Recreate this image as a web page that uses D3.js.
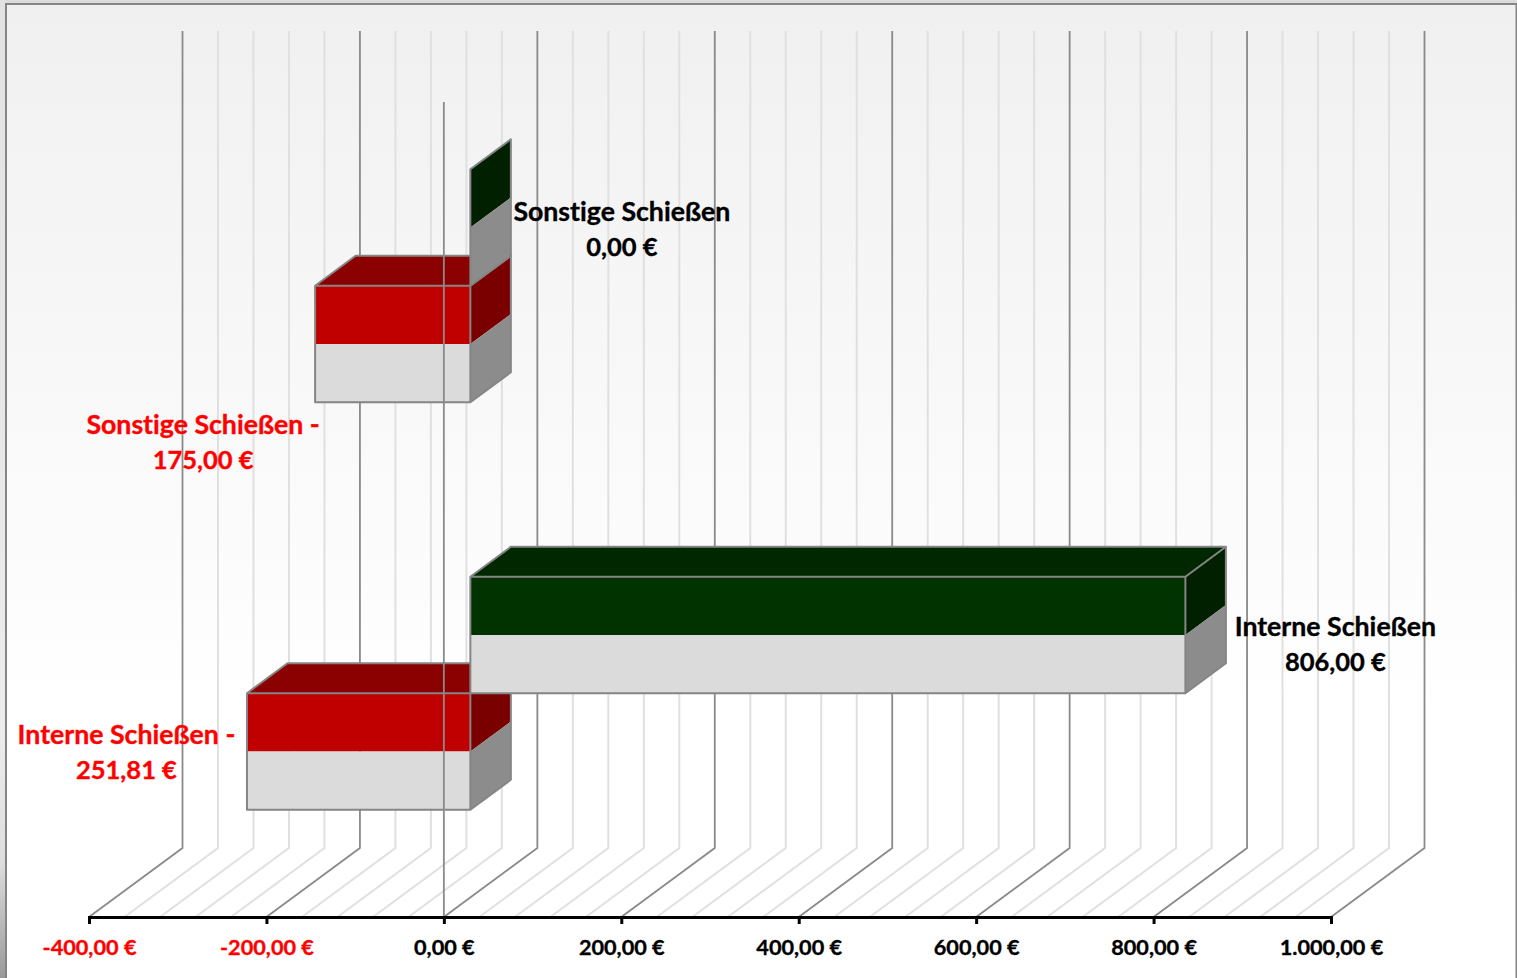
<!DOCTYPE html>
<html lang="de">
<head>
<meta charset="utf-8">
<script src="https://cdn.jsdelivr.net/npm/d3@7"></script>
<style>
html,body{margin:0;padding:0;background:#fff;overflow:hidden}
svg{display:block}
text{font-family:Lato,"Open Sans",sans-serif;font-weight:700;font-variant-ligatures:none;stroke-width:.35px}
</style>
</head>
<body>
<svg id="chart" width="1517" height="978"></svg>
<script>
// ---- data ----
const categories = ["Sonstige Schießen", "Interne Schießen"];
const incomeValues = [0, 806];
const expenseValues = [-175, -251.81];
const xDomain = [-400, 1000];
const majorTicks = [-400, -200, 0, 200, 400, 600, 800, 1000];
const minorTicks = d3.range(-400, 1001, 40);

// ---- layout ----
const W = 1517, H = 978;
const plot = {left: 89, right: 1331, top: 102, bottom: 917};
const wall = {dx: 93.5, dy: -69, top: 31};
const bar = {dx: 40.5, dy: -30, shiftX: 26.5, shiftY: -20, h: 116.5};
const labelPlace = {
  "Sonstige Schießen|income": {dx: 151.5, y: 221},
  "Sonstige Schießen|expense": {dx: -112, y: 434},
  "Interne Schießen|income": {dx: 150, y: 636},
  "Interne Schießen|expense": {dx: -120.5, y: 744}
};

const de = d3.formatLocale({decimal: ",", thousands: ".", grouping: [3], currency: ["", " €"], minus: "-"});
const euro = v => de.format(",.2f")(v) + " €";

const x = d3.scaleLinear().domain(xDomain).range([plot.left, plot.right]);
const y = d3.scaleBand().domain(categories).range([plot.top, plot.bottom]);

const svg = d3.select("#chart");

// ---- background ----
const defs = svg.append("defs");
const bgGrad = defs.append("linearGradient").attr("id", "bg").attr("x1", 0).attr("x2", 0).attr("y1", 0).attr("y2", 1);
[[0, "#f0f0f0"], [0.72, "#ffffff"], [1, "#ffffff"]].forEach(s => bgGrad.append("stop").attr("offset", s[0]).attr("stop-color", s[1]));
const edgeGrad = defs.append("linearGradient").attr("id", "edge").attr("x1", 0).attr("x2", 0).attr("y1", 0).attr("y2", 1);
[[0, "#e2e2e2"], [0.75, "#ececec"], [0.88, "#dedede"], [1, "#9a9a9a"]].forEach(s => edgeGrad.append("stop").attr("offset", s[0]).attr("stop-color", s[1]));

svg.append("rect").attr("width", W).attr("height", 4).attr("fill", "#dcdcdc");
svg.append("rect").attr("y", 0).attr("width", 6).attr("height", H).attr("fill", "url(#edge)");
svg.append("rect").attr("x", 6).attr("y", 4).attr("width", W - 7).attr("height", H - 4).attr("fill", "url(#bg)");
svg.append("path").attr("d", `M6,${H}V4H${W - 0.5}V${H}`).attr("fill", "none").attr("stroke", "#858585").attr("stroke-width", 2);

// ---- grid (floor + back wall) ----
const gridPath = v => `M${x(v)},${plot.bottom}L${x(v) + wall.dx},${plot.bottom + wall.dy}V${wall.top}`;
const isMajor = v => majorTicks.includes(v);
const grid = svg.append("g").attr("fill", "none");
grid.selectAll("path.minor").data(minorTicks.filter(v => !isMajor(v))).join("path")
  .attr("class", "minor").attr("d", gridPath).attr("stroke", "#e0e0e0").attr("stroke-width", 2);
grid.selectAll("path.major").data(majorTicks).join("path")
  .attr("class", "major").attr("d", gridPath).attr("stroke", "#8a8a8a").attr("stroke-width", 1.8);

// ---- bars ----
const series = [
  {key: "expense", values: expenseValues, front: "#c00000", top: "#8b0000", side: "#7a0000", row: 1},
  {key: "income", values: incomeValues, front: "#003300", top: "#002800", side: "#002000", row: 0}
];
const rows = [];
categories.forEach((c, i) => series.forEach(s => rows.push({cat: c, value: s.values[i], s})));
const sideGray = "#8c8c8c", frontGray = "#dbdbdb", edge = "#858585";

function drawBar(g, d) {
  const cy = y(d.cat) + y.bandwidth() / 2 + bar.shiftY;
  const top = d.s.row === 0 ? cy - bar.h : cy;
  const mid = top + bar.h / 2, bot = top + bar.h;
  const x0 = x(Math.min(0, d.value)) + bar.shiftX, x1 = x(Math.max(0, d.value)) + bar.shiftX;
  const poly = (pts, fill) => g.append("polygon").attr("points", pts.map(p => p.join(",")).join(" ")).attr("fill", fill);
  const dx = bar.dx, dy = bar.dy;
  if (x1 > x0) poly([[x0, top], [x1, top], [x1 + dx, top + dy], [x0 + dx, top + dy]], d.s.top);
  poly([[x1, top], [x1 + dx, top + dy], [x1 + dx, mid + dy], [x1, mid]], d.s.side);
  poly([[x1, mid], [x1 + dx, mid + dy], [x1 + dx, bot + dy], [x1, bot]], sideGray);
  if (x1 > x0) {
    poly([[x0, top], [x1, top], [x1, mid], [x0, mid]], d.s.front);
    poly([[x0, mid], [x1, mid], [x1, bot], [x0, bot]], frontGray);
  }
  const outline = x1 > x0
    ? `M${x0},${top}H${x1}V${bot}H${x0}ZM${x0},${top}L${x0 + dx},${top + dy}H${x1 + dx}V${bot + dy}L${x1},${bot}M${x1},${top}L${x1 + dx},${top + dy}`
    : `M${x1},${top}L${x1 + dx},${top + dy}V${bot + dy}L${x1},${bot}Z`;
  g.append("path").attr("d", outline).attr("fill", "none").attr("stroke", edge).attr("stroke-width", 2).attr("stroke-linejoin", "round");
}
const barLayer = svg.append("g");
rows.forEach(d => drawBar(barLayer.append("g").attr("class", "bar"), d));

// ---- zero axis over bars ----
svg.append("line").attr("x1", x(0)).attr("x2", x(0)).attr("y1", plot.top).attr("y2", plot.bottom)
  .attr("stroke", "#8a8a8a").attr("stroke-width", 1.8);

// ---- value axis ----
const axis = d3.axisBottom(x).tickValues(majorTicks).tickFormat(euro).tickSizeOuter(0).tickSize(7).tickPadding(16);
const axG = svg.append("g").attr("transform", `translate(0,${plot.bottom})`).call(axis);
axG.select(".domain").attr("stroke", "#000").attr("stroke-width", 3);
axG.selectAll(".tick line").attr("stroke", "#000").attr("stroke-width", 3);
axG.selectAll(".tick text")
  .style("font-family", "Lato,'Open Sans',sans-serif").style("font-weight", 700).style("font-size", "21.7px")
  .attr("fill", d => d < 0 ? "#ff0000" : "#000")
  .attr("stroke", d => d < 0 ? "#ff0000" : "#000");

// ---- data labels ----
const lineGap = 35;
rows.forEach(d => {
  const p = labelPlace[d.cat + "|" + d.s.key];
  const cx = x(d.value) + bar.shiftX + p.dx;
  const neg = d.value < 0;
  const c = neg ? "#ff0000" : "#000";
  const t = svg.append("text").attr("text-anchor", "middle").attr("fill", c).attr("stroke", c);
  t.append("tspan").attr("x", cx).attr("y", p.y).style("font-size", "26.7px").text(d.cat + (neg ? " -" : ""));
  t.append("tspan").attr("x", cx).attr("y", p.y + lineGap).style("font-size", "25.5px").text(euro(Math.abs(d.value)));
});
</script>
</body>
</html>
